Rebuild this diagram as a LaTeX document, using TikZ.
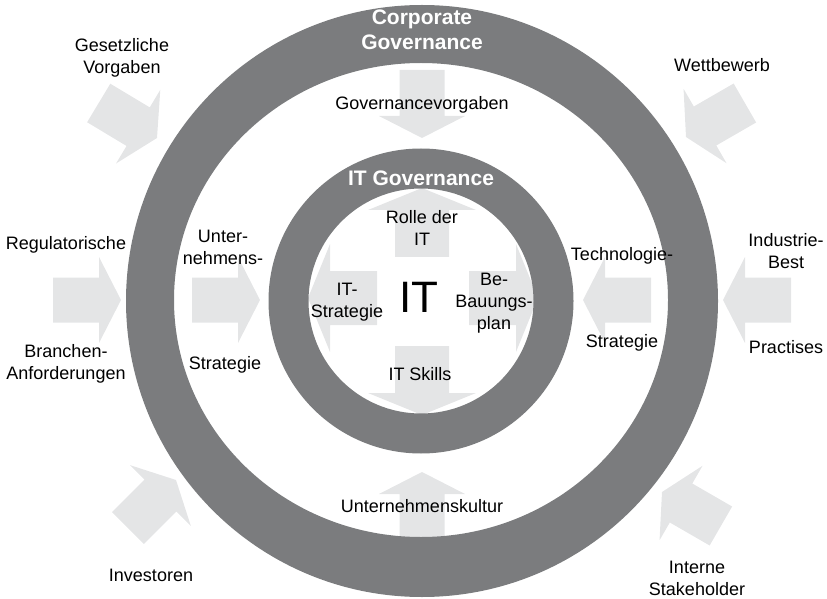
\documentclass[tikz,border=0pt]{standalone}
\usepackage{fontspec}
\setmainfont{Liberation Sans}
\definecolor{ringgrau}{RGB}{123,124,126}
\definecolor{pfeilgrau}{RGB}{228,229,230}

\begin{document}
\begin{tikzpicture}[x=1pt,y=1pt,line join=round,
    txt/.style={font=\fontsize{18}{22}\selectfont,align=center,inner sep=0pt},
    ringtxt/.style={font=\fontsize{21}{24.5}\selectfont\bfseries,text=white,align=center,inner sep=0pt},
    pfeil/.pic={\fill[pfeilgrau] (0,0) -- (-22,43) -- (-22,22.5) -- (-68,22.5) -- (-68,-22.5) -- (-22,-22.5) -- (-22,-43) -- cycle;},
    innenpfeil/.pic={\fill[pfeilgrau] (0,0) -- (-22,54) -- (-22,27) -- (-69,27) -- (-69,-27) -- (-22,-27) -- (-22,-54) -- cycle;}]
  \useasboundingbox (0,0) rectangle (827,598);
  % Einfluesse von aussen
  \pic[rotate=-31] at (157,460) {pfeil};
  \pic at (121,298) {pfeil};
  \pic[rotate=45] at (176,118) {pfeil};
  \pic[rotate=150] at (662,106) {pfeil};
  \pic[rotate=180] at (723,298) {pfeil};
  \pic[rotate=210] at (686,461) {pfeil};
  % zwischen den Ringen
  \pic[rotate=-90] at (422,460) {pfeil};
  \pic at (260,298) {pfeil};
  \pic[rotate=180] at (583,298) {pfeil};
  \pic[rotate=90] at (422,126) {pfeil};
  % innen
  \pic[rotate=90] at (422,410) {innenpfeil};
  \pic[rotate=-90] at (422,183) {innenpfeil};
  \pic[rotate=180] at (308,300) {innenpfeil};
  \pic at (538,300) {innenpfeil};
  % Ringe
  \fill[ringgrau,even odd rule] (422,297) circle (296) (421,298) ellipse (247 and 237);
  \fill[ringgrau,even odd rule] (421,297) circle (152.5) (421,297) circle (112.5);
  \node[ringtxt] (corp) at (422,568) {Corporate\\Governance};
  \node[ringtxt] (itgov) at (421,420) {IT Governance};
  % Texte
  \node[txt] (gesetz) at (122,540) {Gesetzliche\\Vorgaben};
  \node[txt] (regul) at (66,353) {Regulatorische};
  \node[txt] (branche) at (66,234) {Branchen-\\Anforderungen};
  \node[txt] (invest) at (151,23) {Investoren};
  \node[txt] (wettb) at (722,533) {Wettbewerb};
  \node[txt] (indus) at (786,347) {Industrie-\\Best};
  \node[txt] (pract) at (786,251) {Practises};
  \node[txt] (intern) at (697,20) {Interne\\Stakeholder};
  \node[txt] (untern) at (223,351) {Unter-\\nehmens-};
  \node[txt] (ustrat) at (225,233) {Strategie};
  \node[txt] (techno) at (622,342) {Technologie-};
  \node[txt] (tstrat) at (622,255) {Strategie};
  \node[txt] (govvor) at (422,493) {Governancevorgaben};
  \node[txt] (kultur) at (422,92) {Unternehmenskultur};
  \node[txt] (rolle) at (422,370) {Rolle der\\IT};
  \node[txt] (itstrat) at (347,296) {IT-\\Strategie};
  \node[font=\fontsize{44}{44}\selectfont,inner sep=0pt] (it) at (419,301) {IT};
  \node[txt] (bebau) at (494,295) {Be-\\Bauungs-\\plan};
  \node[txt] (skills) at (420,224) {IT Skills};
\end{tikzpicture}
\end{document}
